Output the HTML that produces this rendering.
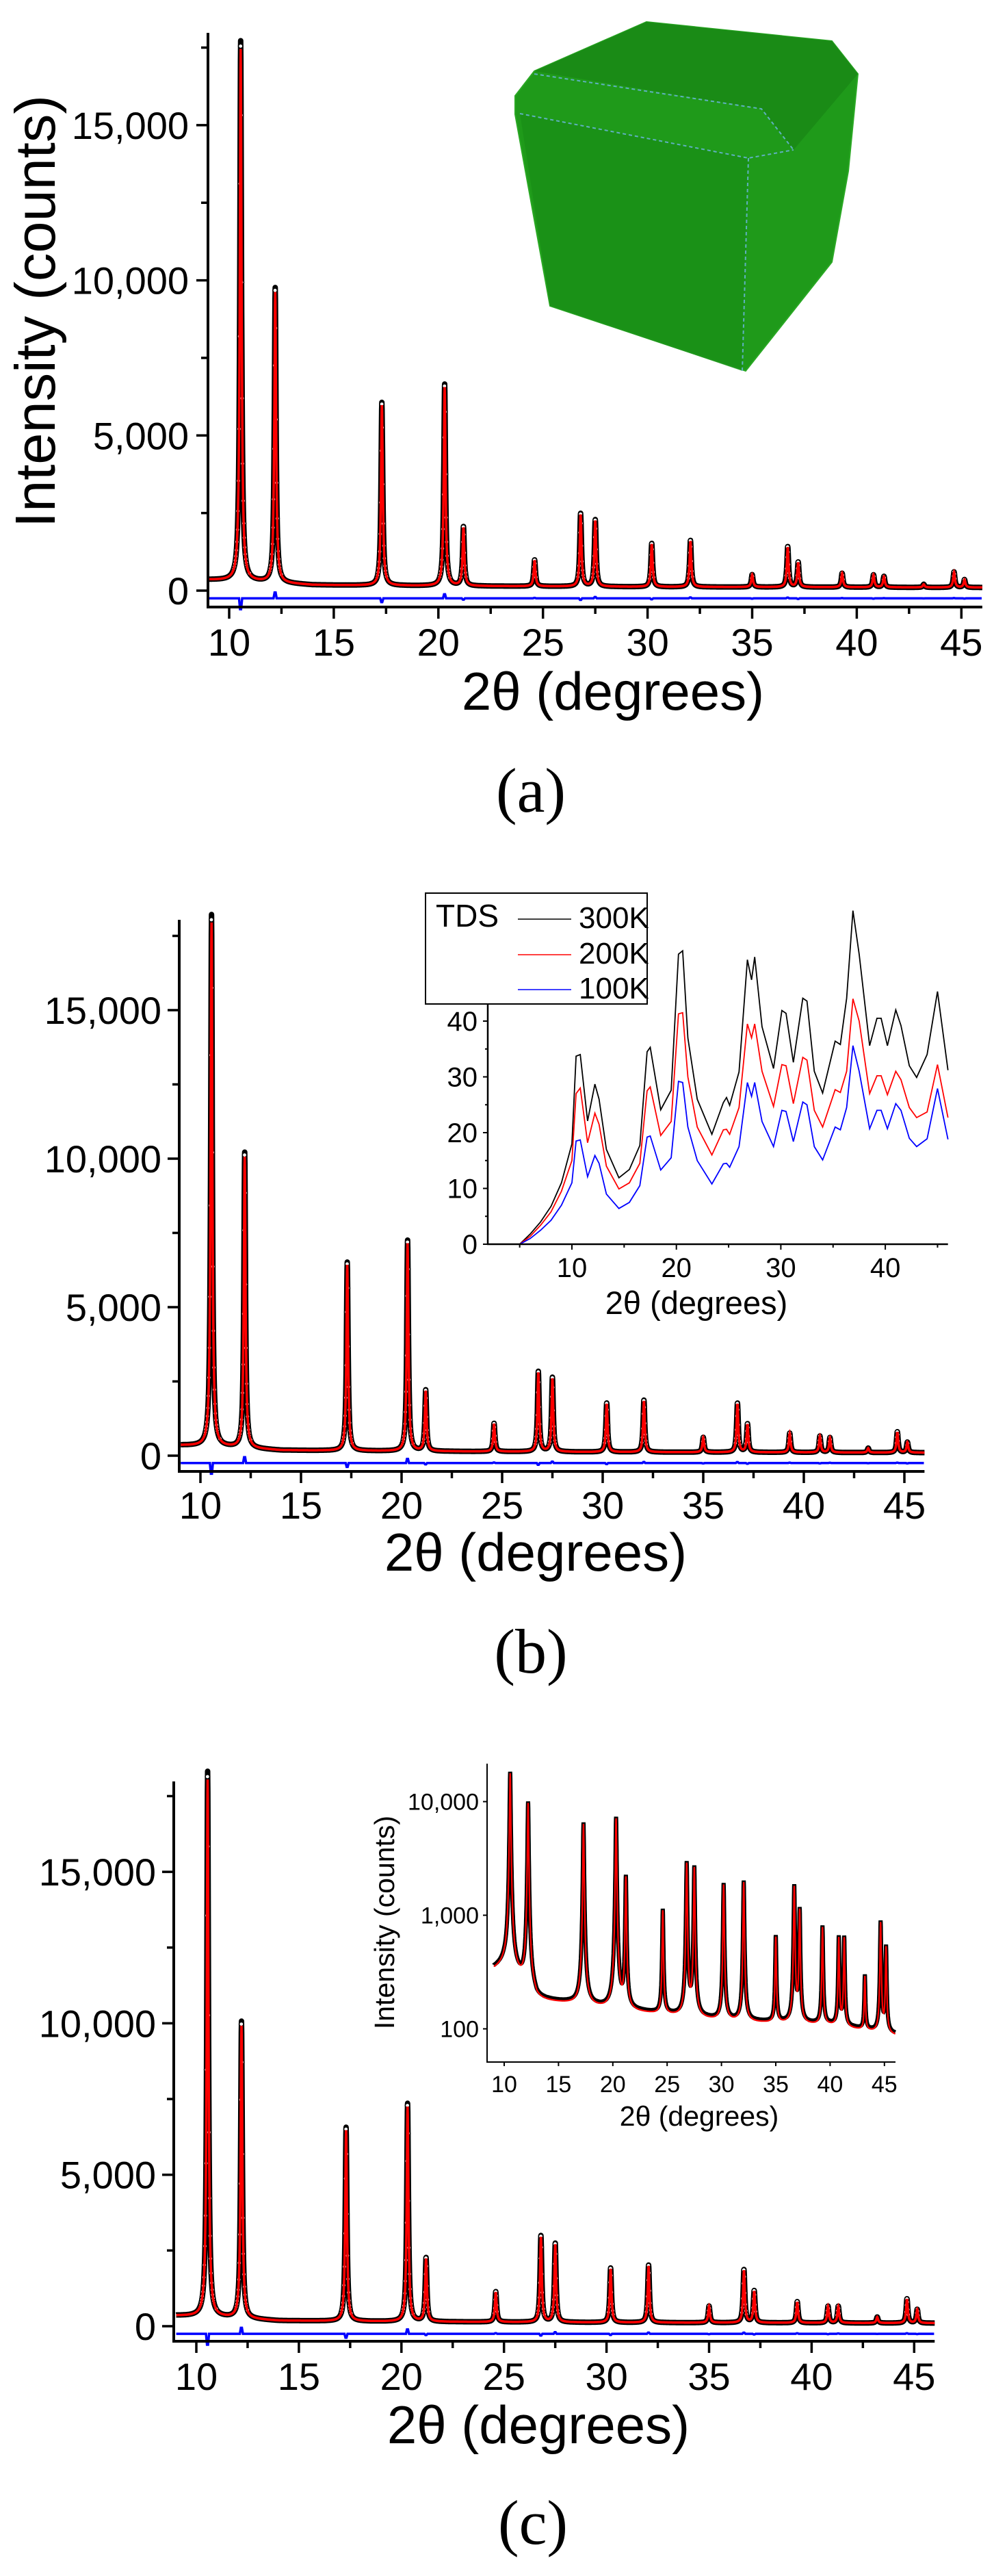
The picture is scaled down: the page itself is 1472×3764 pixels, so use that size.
<!DOCTYPE html>
<html><head><meta charset="utf-8"><style>
html,body{margin:0;padding:0;background:#fff;}
svg{display:block;}
text{font-family:"Liberation Sans",sans-serif;}
</style></head><body>
<svg id="fig" xmlns="http://www.w3.org/2000/svg" width="1472" height="3764" viewBox="0 0 1472 3764">
<rect x="0" y="0" width="1472" height="3764" fill="#fff"/>
<g>
<polygon points="753,140 781,104 945,32 1216,60 1254,108 1240,250 1216,383 1090,542 804,447 753,167" fill="#1f9a1a" stroke="#2aa824" stroke-width="2"/>
<polygon points="781,104 945,32 1216,60 1254,108 1160,219 1113,159" fill="#1a8a16" opacity="0.9"/>
<polygon points="760,166 1094,231 1085,542 804,447" fill="#188c15" opacity="0.6"/>
<polyline points="760,166 1094,231 1160,219" fill="none" stroke="#5fb0c0" stroke-width="2" stroke-dasharray="5,4"/>
<polyline points="781,108 1113,159 1160,219" fill="none" stroke="#5fb0c0" stroke-width="2" stroke-dasharray="5,4"/>
<line x1="1094" y1="231" x2="1085" y2="542" stroke="#5fb0c0" stroke-width="2" stroke-dasharray="5,4"/>
</g>
</svg>
<script>
// ---- data: main diffraction patterns (peak positions / heights in counts) ----
const peakPos = [10.55,12.2,17.3,20.3,21.2,24.6,26.8,27.5,30.2,32.05,35.0,36.7,37.2,39.3,40.8,41.3,43.2,44.65,45.15];
const peakHA = [17400,9500,5900,6500,1900,850,2350,2150,1400,1500,400,1300,800,450,400,350,100,500,250];
const peakHB = [17900,9950,6350,7100,2050,950,2700,2500,1650,1750,500,1650,950,650,550,500,150,700,350];
const peakHC = [18000,9800,6400,7200,2100,1000,2850,2600,1800,1900,550,1750,1050,700,550,550,200,800,450];
const bgX = [9,11,14,20,30,46];
const bgY = [350,300,180,150,120,100];
const diffLevel = [-250];
const xTicks = [10,15,20,25,30,35,40,45];
const yTicks = [0,5000,10000,15000];
const yTickLabels = ["0","5,000","10,000","15,000"];
// ---- data: TDS inset (b) ----
const tdsX = [2,5,6,7,8,9,10,10.4,10.8,11.5,12.2,12.6,13.3,14.5,15.5,16.5,17.2,17.5,18.5,19.5,20.2,20.6,21.1,22,23.4,24.5,24.8,25.1,26,26.8,27.2,27.5,28.2,29.3,30.1,30.5,31.2,32.1,32.5,33.2,34,35.2,35.7,36.3,36.9,37.5,38.5,39.2,39.6,40.2,41,41.5,42.3,43,44,45,46];
const tds300 = [0,0,1.8,4,6.8,11,18,33.7,34,22.1,28.7,26,17,11.9,13.4,17.7,34.5,35.3,24.1,27.6,52,52.6,37,26,19.7,25.4,26.3,24.9,30.9,51,47.4,51.5,39,31.5,41.9,41.4,32.6,44.1,43.6,31,27.1,36.4,35.8,44.1,59.8,52,35.6,40.5,40.5,35.6,42,39.2,32,29.9,34,45.3,31.2];
const tds200 = [0,0,1.4,3.4,5.8,9.5,15,27,28,18.2,23.5,21.5,14,9.9,11,14.5,27.5,28.2,19.5,22,41.3,41.5,30,21,16,20.5,20.6,19.7,24.5,39.5,37,39.5,31,24.7,32.2,32,25.2,33.5,33,24,21,27.7,27.2,31,44,40,27,30.2,30.2,26.8,31,29.5,24.5,22.7,23.7,32.2,22.7];
const tds100 = [0,0,1,2.5,4.3,7,11,18.5,18.7,12.1,15.9,14.5,9,6.4,7.5,10.5,19.2,19.4,13.3,15.5,29.2,29,21,15,10.8,14.4,14.5,13.8,17.5,29,26.5,29,22,17.5,24,23.8,18.4,25.5,25,17.5,15.1,21,20.5,24.5,35.6,31,20.7,24,24,20.7,25.2,24,19,17.5,18.9,27.9,18.8];
const tdsXTicks = [10,20,30,40];
const tdsYTicks = [0,10,20,30,40];
// ---- data: log inset (c) ----
const logBgX = [9,10,13,16,20,25,30,35,40,46];
const logBgY = [340,370,180,170,150,135,120,115,110,90];
const logYTicks = [100,1000,10000];
const logYTickLabels = ["100","1,000","10,000"];

const NS = "http://www.w3.org/2000/svg";
const svg = document.getElementById('fig');
function mk(tag, attrs, parent){ const e=document.createElementNS(NS,tag); for(const k in attrs) e.setAttribute(k,attrs[k]); (parent||svg).appendChild(e); return e; }
function interp(xs, ys, x){ if(x<=xs[0]) return ys[0]; for(let i=1;i<xs.length;i++){ if(x<=xs[i]){ const t=(x-xs[i-1])/(xs[i]-xs[i-1]); return ys[i-1]+t*(ys[i]-ys[i-1]); } } return ys[ys.length-1]; }
const HW = 0.05;
function profile(heights, bxs, bys, x){ let v=interp(bxs,bys,x); for(let i=0;i<peakPos.length;i++){ const d=(x-peakPos[i])/HW; v+=heights[i]/(1+d*d); } return v; }

function mainPanel(cfg){
  const g = mk('g',{});
  
  
  const sx = x => cfg.px10 + (x-10)*cfg.pdeg;
  const sy = v => cfg.zero - v*cfg.pper/5000;
  const left = cfg.ax, right = sx(46);
  // curves
  let dData='', dFit='', dDiff='';
  const circ = [];
  for(let x=9.02; x<=46; x+=0.01){
    const v = profile(cfg.h, bgX, bgY, x);
    const X = sx(x).toFixed(1);
    dData += (dData?'L':'M')+X+','+sy(v).toFixed(1);
    dFit += (dFit?'L':'M')+X+','+sy(v*0.985+3).toFixed(1);
  }
  for(let x=9.02; x<=46; x+=0.025){
    const v = profile(cfg.h, bgX, bgY, x);
    if(v - interp(bgX,bgY,x) > 250) circ.push([sx(x), sy(v)]);
  }
  let di=0;
  for(let x=9.02; x<=46; x+=0.05){
    let s=0; for(let i=0;i<peakPos.length;i++){ if(Math.abs(x-peakPos[i])<0.06) s+= (i%2?1:-1)*Math.min(400,cfg.h[i]*0.02); }
    dDiff += (di++?'L':'M')+sx(x).toFixed(1)+','+sy(diffLevel[0]+s).toFixed(1);
  }
  const dl = mk('path',{d:dData,fill:'none',stroke:'#000','stroke-width':8,'stroke-linejoin':'round'},g);
  
  
  const cg = mk('g',{},g);
  
  
  circ.forEach(p=>{ const c=mk('circle',{cx:p[0].toFixed(1),cy:p[1].toFixed(1),r:3.2,fill:'#fff',stroke:'#000','stroke-width':1.6},cg);
    
     });
  const fl = mk('path',{d:dFit,fill:'none',stroke:'#f00','stroke-width':3.5},g);
  
  
  const df = mk('path',{d:dDiff,fill:'none',stroke:'#00f','stroke-width':3.5},g);
  
  
  // axes
  const ya = mk('line',{x1:left,y1:cfg.top,x2:left,y2:cfg.bottom+2,stroke:'#000','stroke-width':4},g);
  
  
  const xa = mk('line',{x1:left-2,y1:cfg.bottom,x2:right,y2:cfg.bottom,stroke:'#000','stroke-width':4},g);
  
  
  for(let v=0; v<=17500; v+=2500){
    const major = v%5000===0;
    const t = mk('line',{x1:left-(major?17:10),y1:sy(v),x2:left,y2:sy(v),stroke:'#000','stroke-width':3.5},g);
    
    
  }
  yTicks.forEach((v,i)=>{ const t=mk('text',{x:cfg.labR,y:sy(v)+20,'text-anchor':'end','font-size':56},g); t.textContent=yTickLabels[i];
    
     });
  for(let x=10; x<=46; x+=2.5){
    const major = x%5===0;
    const t = mk('line',{x1:sx(x),y1:cfg.bottom,x2:sx(x),y2:cfg.bottom+(major?17:10),stroke:'#000','stroke-width':3.5},g);
    
    
  }
  xTicks.forEach(x=>{ const t=mk('text',{x:sx(x),y:cfg.xlabY,'text-anchor':'middle','font-size':56},g); t.textContent=String(x);
    
     });
  const xt = mk('text',{x:cfg.titleX,y:cfg.titleY,'text-anchor':'middle','font-size':78},g);
  xt.textContent='2θ  (degrees)';
  
  
  const pl = mk('text',{x:cfg.subX,y:cfg.subY,'text-anchor':'middle','font-size':92,style:'font-family:"Liberation Serif",serif'},g);
  pl.textContent=cfg.sub;
  
  
  return g;
}

mainPanel({name:'panel-a-chart',h:peakHA,ax:304,px10:335,pdeg:30.58,top:48,bottom:887,zero:863,pper:226.7,labR:276,xlabY:958,titleX:896,titleY:1037,sub:'(a)',subX:776,subY:1186});
const yt = mk('text',{x:0,y:0,'text-anchor':'middle','font-size':83,transform:'translate(80,455) rotate(-90)'});
yt.textContent='Intensity (counts)';


mainPanel({name:'panel-b-chart',h:peakHB,ax:262,px10:293,pdeg:29.4,top:1344,bottom:2150,zero:2127,pper:217,labR:236,xlabY:2219,titleX:783,titleY:2295,sub:'(b)',subX:776,subY:2444});
mainPanel({name:'panel-c-chart',h:peakHC,ax:254,px10:287,pdeg:29.98,top:2603,bottom:3421,zero:3399,pper:221.3,labR:228,xlabY:3492,titleX:787,titleY:3570,sub:'(c)',subX:779,subY:3717});

// ---- inset (b): TDS ----
(function(){
  const g = mk('g',{});
  
  
  const sx = x => 836 + (x-10)*15.27;
  const sy = v => 1818 - v*8.15;
  const left=713, right=sx(46), top=sy(62), bottom=1818;
  const series = [[tds300,'#000','300K'],[tds200,'#f00','200K'],[tds100,'#00f','100K']];
  series.forEach(s=>{
    let d=''; tdsX.forEach((x,i)=>{ d+=(i?'L':'M')+sx(x).toFixed(1)+','+sy(s[0][i]).toFixed(1); });
    const p=mk('path',{d:d,fill:'none',stroke:s[1],'stroke-width':1.8},g);
    
    
  });
  const ya=mk('line',{x1:left,y1:top,x2:left,y2:bottom+1,stroke:'#000','stroke-width':2.5},g);
  
  
  const xa=mk('line',{x1:left-1,y1:bottom,x2:right,y2:bottom,stroke:'#000','stroke-width':2.5},g);
  
  
  for(let v=0; v<=60; v+=5){ const t=mk('line',{x1:left-(v%10?4:7),y1:sy(v),x2:left,y2:sy(v),stroke:'#000','stroke-width':2},g);
    
     }
  tdsYTicks.forEach(v=>{ const t=mk('text',{x:698,y:sy(v)+14,'text-anchor':'end','font-size':40},g); t.textContent=String(v);
    
     });
  for(let x=5; x<=45; x+=5){ const t=mk('line',{x1:sx(x),y1:bottom,x2:sx(x),y2:bottom+(x%10?5:8),stroke:'#000','stroke-width':2},g);
    
     }
  tdsXTicks.forEach(x=>{ const t=mk('text',{x:sx(x),y:1866,'text-anchor':'middle','font-size':40},g); t.textContent=String(x);
    
     });
  const tt=mk('text',{x:1018,y:1920,'text-anchor':'middle','font-size':47},g);
  tt.textContent='2θ  (degrees)';
  
  
  const lg=mk('g',{},g);
  
  
  mk('rect',{x:622,y:1305,width:324,height:162,fill:'#fff',stroke:'#000','stroke-width':2},lg);
  const ttl=mk('text',{x:637,y:1354,'font-size':46},lg);
  ttl.textContent='TDS';
  
  
  const ly=[1343,1395,1446], lt=[1356,1408,1459];
  series.forEach((s,i)=>{
    const l=mk('line',{x1:757,y1:ly[i],x2:835,y2:ly[i],stroke:s[1],'stroke-width':1.5},lg);
    
    
    const t=mk('text',{x:846,y:lt[i],'font-size':44},lg); t.textContent=s[2];
    
    
  });
})();

// ---- inset (c): log scale ----
(function(){
  const g = mk('g',{});
  
  
  const sx = x => 737 + (x-10)*15.88;
  const sy = v => 2964.5 - (Math.log10(v)-2)*166;
  const left=712, right=1309, top=2577, bottom=3013;
  let dD='', dF='', n=0;
  for(let x=9.05; x<=46; x+=0.01){
    const v=profile(peakHC, logBgX, logBgY, x);
    const X=sx(x).toFixed(1);
    dD+=(n?'L':'M')+X+','+Math.min(bottom-2,sy(v)).toFixed(1);
    dF+=(n?'L':'M')+X+','+Math.min(bottom-2,sy(v*0.97)).toFixed(1);
    n++;
  }
  const d=mk('path',{d:dD,fill:'none',stroke:'#000','stroke-width':6},g);
  
  
  const f=mk('path',{d:dF,fill:'none',stroke:'#f00','stroke-width':2.2},g);
  
  
  const ya=mk('line',{x1:left,y1:top,x2:left,y2:bottom+1,stroke:'#000','stroke-width':2},g);
  
  
  const xa=mk('line',{x1:left-1,y1:bottom,x2:right,y2:bottom,stroke:'#000','stroke-width':2},g);
  
  
  logYTicks.forEach((v,i)=>{
    const t=mk('line',{x1:left-6,y1:sy(v),x2:left,y2:sy(v),stroke:'#000','stroke-width':2},g);
    
    
    const l=mk('text',{x:700,y:sy(v)+12,'text-anchor':'end','font-size':34},g); l.textContent=logYTickLabels[i];
    
    
  });
  xTicks.forEach(x=>{
    const t=mk('line',{x1:sx(x),y1:bottom,x2:sx(x),y2:bottom+6,stroke:'#000','stroke-width':2},g);
    
    
    const l=mk('text',{x:sx(x),y:3057,'text-anchor':'middle','font-size':34},g); l.textContent=String(x);
    
    
  });
  const tt=mk('text',{x:1022,y:3106,'text-anchor':'middle','font-size':41},g);
  tt.textContent='2θ  (degrees)';
  
  
  const yt=mk('text',{x:0,y:0,'text-anchor':'middle','font-size':41,transform:'translate(576,2809) rotate(-90)'},g);
  yt.textContent='Intensity  (counts)';
  
  
})();
</script>
</body></html>
